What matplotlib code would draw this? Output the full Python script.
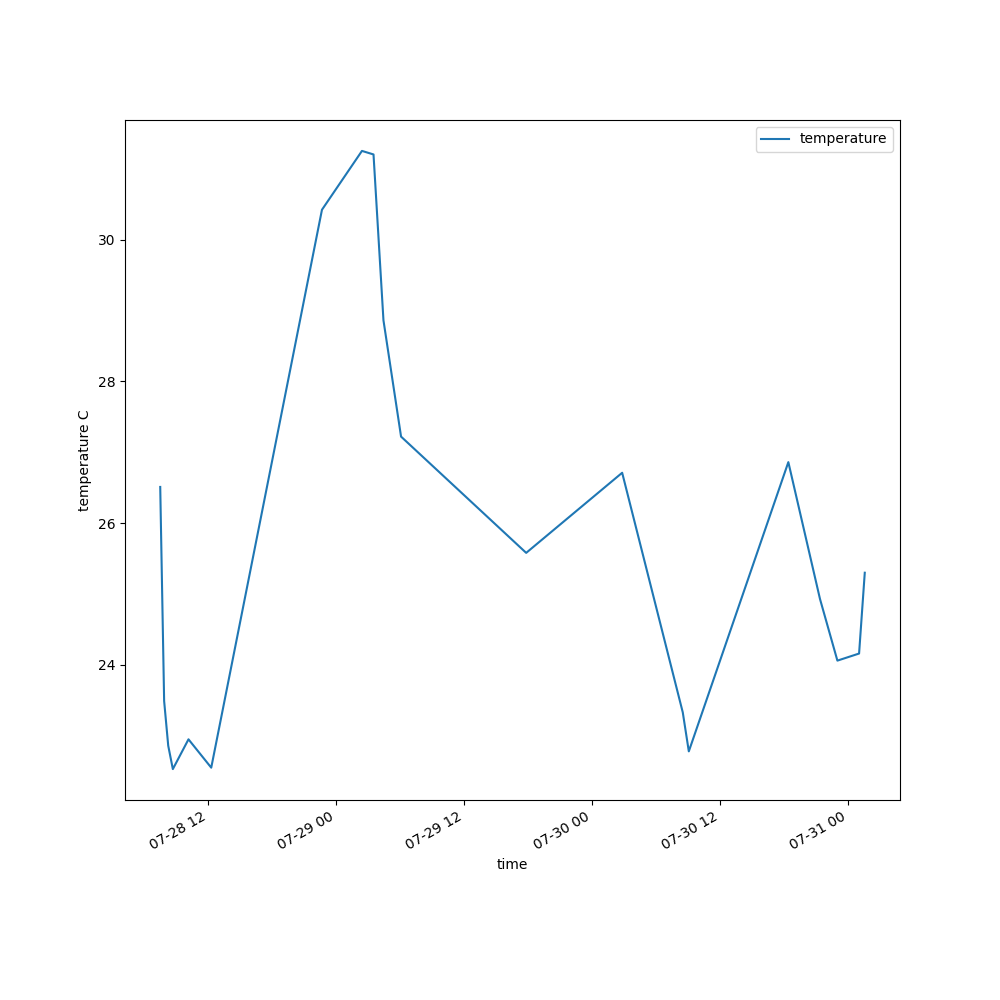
import numpy as np
import matplotlib
matplotlib.use('Agg')
from matplotlib import pyplot as plt

times = np.array([
    '2021-07-28T07:30', '2021-07-28T07:52', '2021-07-28T08:15', '2021-07-28T08:41',
    '2021-07-28T10:09', '2021-07-28T12:17', '2021-07-28T22:40', '2021-07-29T02:25',
    '2021-07-29T03:30', '2021-07-29T04:26', '2021-07-29T06:05', '2021-07-29T17:49',
    '2021-07-30T02:49', '2021-07-30T08:30', '2021-07-30T09:04', '2021-07-30T18:24',
    '2021-07-30T21:22', '2021-07-30T23:00', '2021-07-31T01:02', '2021-07-31T01:34',
], dtype='datetime64[m]')
temperature = [26.51, 23.49, 22.86, 22.53, 22.95, 22.55, 30.42, 31.25,
               31.20, 28.86, 27.22, 25.58, 26.71, 23.33, 22.78, 26.86,
               24.93, 24.06, 24.16, 25.30]

fig, ax = plt.subplots(figsize=(10, 10), dpi=100)
ax.plot(times, temperature, label='temperature')
ax.set_xlabel('time')
ax.set_ylabel('temperature C')
ax.legend(loc='upper right')
fig.autofmt_xdate()

plt.savefig('out.png')
